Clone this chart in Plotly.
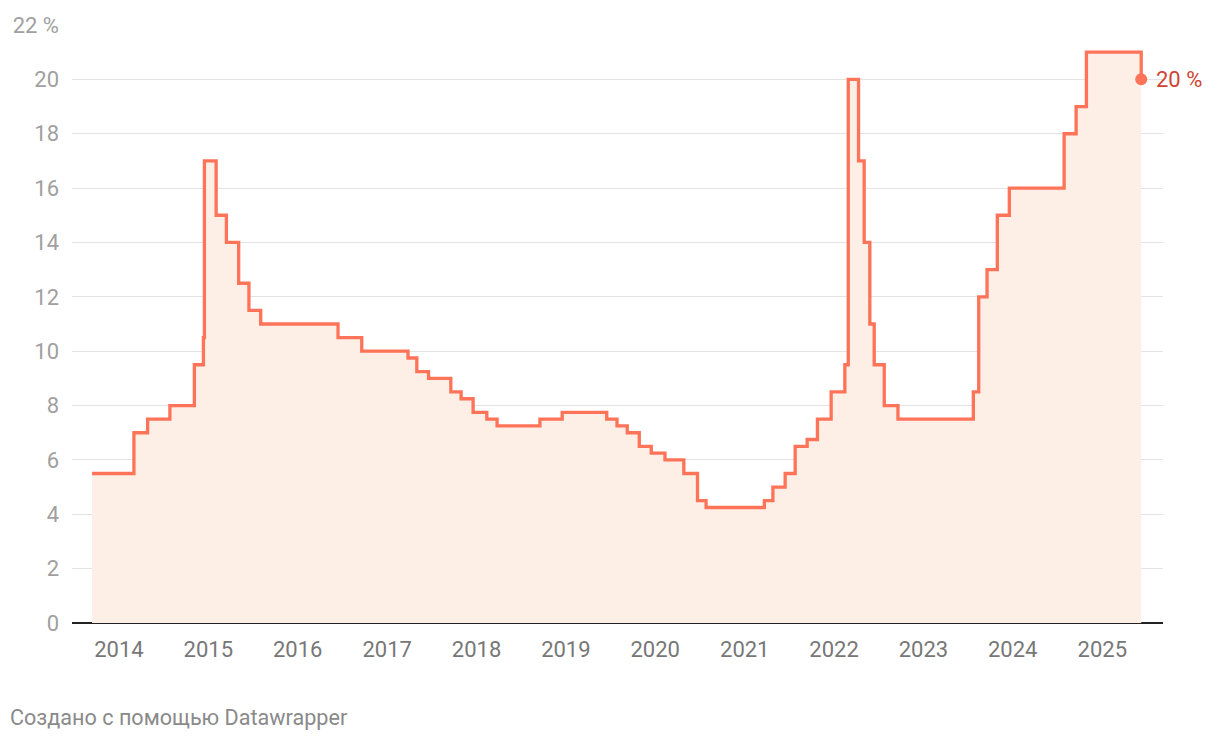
import plotly.graph_objects as go

# Key rate decision dates and values (%)
dates = [
    "2013-09-13", "2014-03-03", "2014-04-28", "2014-07-28", "2014-11-05",
    "2014-12-12", "2014-12-16", "2015-02-02", "2015-03-16", "2015-05-05",
    "2015-06-16", "2015-08-03", "2016-06-14", "2016-09-19", "2017-03-27",
    "2017-05-02", "2017-06-19", "2017-09-18", "2017-10-30", "2017-12-18",
    "2018-02-12", "2018-03-26", "2018-09-17", "2018-12-17", "2019-06-17",
    "2019-07-29", "2019-09-09", "2019-10-28", "2019-12-16", "2020-02-10",
    "2020-04-27", "2020-06-22", "2020-07-27", "2021-03-22", "2021-04-26",
    "2021-06-15", "2021-07-26", "2021-09-13", "2021-10-25", "2021-12-20",
    "2022-02-14", "2022-02-28", "2022-04-11", "2022-05-04", "2022-05-27",
    "2022-06-14", "2022-07-25", "2022-09-19", "2023-07-24", "2023-08-15",
    "2023-09-18", "2023-10-30", "2023-12-18", "2024-07-29", "2024-09-16",
    "2024-10-28", "2025-06-09",
]
rates = [
    5.5, 7.0, 7.5, 8.0, 9.5,
    10.5, 17.0, 15.0, 14.0, 12.5,
    11.5, 11.0, 10.5, 10.0, 9.75,
    9.25, 9.0, 8.5, 8.25, 7.75,
    7.5, 7.25, 7.5, 7.75, 7.5,
    7.25, 7.0, 6.5, 6.25, 6.0,
    5.5, 4.5, 4.25, 4.5, 5.0,
    5.5, 6.5, 6.75, 7.5, 8.5,
    9.5, 20.0, 17.0, 14.0, 11.0,
    9.5, 8.0, 7.5, 8.5, 12.0,
    13.0, 15.0, 16.0, 18.0, 19.0,
    21.0, 20.0,
]

y_ticks = [0, 2, 4, 6, 8, 10, 12, 14, 16, 18, 20, 22]
y_labels = [str(v) for v in y_ticks[:-1]] + ["22 %"]
x_ticks = ["%d-01-01" % y for y in range(2014, 2026)]
x_labels = [str(y) for y in range(2014, 2026)]

LINE = "#ff7359"
FONT = "Roboto"

fig = go.Figure()
fig.add_trace(go.Scatter(
    x=dates, y=rates, mode="lines", line=dict(color=LINE, width=3.3, shape="hv"),
    fill="tozeroy", fillcolor="#fdeee6", hoverinfo="skip", showlegend=False,
))
fig.add_trace(go.Scatter(
    x=[dates[-1]], y=[rates[-1]], mode="markers",
    marker=dict(color=LINE, size=12),
    cliponaxis=False, hoverinfo="skip", showlegend=False,
))
fig.add_annotation(
    x=dates[-1], y=rates[-1], text="%g %%" % rates[-1], showarrow=False,
    xanchor="left", yanchor="middle", xshift=13,
    font=dict(family=FONT, size=22, color="#cf4434"),
)

# page body has an 8px margin, so the figure is 8px smaller on each axis
fig.update_layout(
    width=1212, height=732,
    margin=dict(l=64, r=57, t=17, b=117),
    paper_bgcolor="white", plot_bgcolor="white",
    font=dict(family=FONT),
    xaxis=dict(
        type="date", range=["2013-06-23", "2025-09-06"],
        tickvals=x_ticks, ticktext=x_labels, automargin=False,
        showgrid=False, zeroline=False, showline=False,
        tickfont=dict(size=22, color="#777777"), ticks="",
        ticklabelstandoff=11,
    ),
    yaxis=dict(
        range=[0, 22], tickvals=y_ticks, ticktext=y_labels, automargin=False,
        showgrid=True, gridcolor="#e3e3e3", gridwidth=1,
        zeroline=True, zerolinecolor="#222222", zerolinewidth=2,
        tickfont=dict(size=22, color="#a0a0a0"), ticks="",
        ticklabelstandoff=12,
    ),
)
fig.add_annotation(
    text="Создано с помощью Datawrapper", xref="paper", yref="paper",
    x=-64 / 1091, y=-94 / 598, xanchor="left", yanchor="middle",
    showarrow=False, font=dict(family=FONT, size=21.6, color="#8a8a8a"),
)

fig.write_html("out.html")
